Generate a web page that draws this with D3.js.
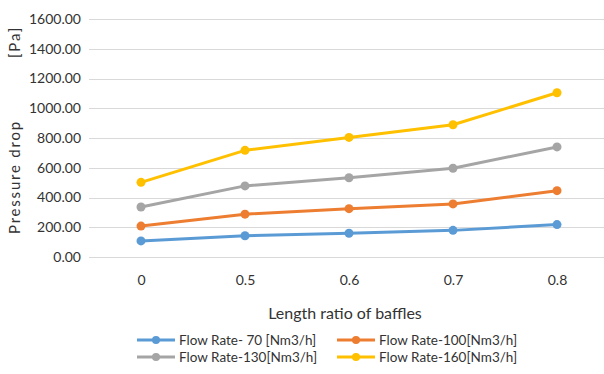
<!DOCTYPE html>
<html>
<head>
<meta charset="utf-8">
<script src="https://cdn.jsdelivr.net/npm/d3@7"></script>
<style>
  html, body { margin: 0; padding: 0; background: #fff; }
  svg { display: block; font-family: Lato, "Open Sans", sans-serif; }
</style>
</head>
<body>
<svg id="chart" width="604" height="374"></svg>
<script>
// Length ratio of baffles (categories on the x axis)
const categories = ["0", "0.5", "0.6", "0.7", "0.8"];

// Pressure drop [Pa] for each flow rate
const flow70  = [108, 143, 160, 179, 218];
const flow100 = [208, 288, 325, 357, 446];
const flow130 = [336, 478, 533, 597, 740];
const flow160 = [502, 717, 804, 889, 1104];

const seriesNames = [
  "Flow Rate- 70 [Nm3/h]",
  "Flow Rate-100[Nm3/h]",
  "Flow Rate-130[Nm3/h]",
  "Flow Rate-160[Nm3/h]"
];
const seriesColors = ["#5b9bd5", "#ed7d31", "#a5a5a5", "#ffc000"];

const yTicks = [0, 200, 400, 600, 800, 1000, 1200, 1400, 1600];

const series = [flow70, flow100, flow130, flow160].map((values, i) => ({
  name: seriesNames[i],
  color: seriesColors[i],
  values: values
}));

const textColor = "#333";
const svg = d3.select("#chart");

const x = d3.scalePoint()
  .domain(categories)
  .range([141, 557]);

const y = d3.scaleLinear()
  .domain([0, 1600])
  .range([257, 19]);

// Horizontal gridlines
svg.append("g")
  .selectAll("line")
  .data(yTicks)
  .join("line")
  .attr("x1", 89)
  .attr("x2", 604)
  .attr("y1", d => Math.round(y(d)) + 0.5)
  .attr("y2", d => Math.round(y(d)) + 0.5)
  .attr("stroke", "#d9d9d9")
  .attr("stroke-width", 1);

// Y axis labels
const yAxis = d3.axisLeft(y)
  .tickValues(yTicks)
  .tickFormat(d3.format(".2f"))
  .tickSize(0)
  .tickPadding(0);
const yg = svg.append("g")
  .attr("transform", "translate(81,0)")
  .call(yAxis);
yg.select(".domain").remove();
yg.selectAll("text")
  .attr("font-family", "Lato, sans-serif")
  .attr("font-size", 14)
  .attr("fill", textColor);

// X axis labels
const xAxis = d3.axisBottom(x).tickSize(0).tickPadding(0);
const xg = svg.append("g")
  .attr("transform", "translate(0,275)")
  .call(xAxis);
xg.select(".domain").remove();
xg.selectAll("text")
  .attr("font-family", "Lato, sans-serif")
  .attr("font-size", 14)
  .attr("fill", textColor);

// Axis titles
svg.append("text")
  .attr("x", 345)
  .attr("y", 319)
  .attr("text-anchor", "middle")
  .attr("font-size", 16)
  .attr("fill", textColor)
  .text("Length ratio of baffles");

svg.append("text")
  .attr("transform", "translate(20,177) rotate(-90)")
  .attr("text-anchor", "middle")
  .attr("font-size", 15)
  .attr("letter-spacing", 1.8)
  .attr("fill", textColor)
  .text("Pressure drop");

svg.append("text")
  .attr("transform", "translate(20,42) rotate(-90)")
  .attr("text-anchor", "middle")
  .attr("font-size", 15)
  .attr("letter-spacing", 1.8)
  .attr("fill", textColor)
  .text("[Pa]");

// Lines and markers
const line = d3.line()
  .x((d, i) => x(categories[i]))
  .y(d => y(d));

const sg = svg.append("g")
  .selectAll("g")
  .data(series)
  .join("g");

sg.append("path")
  .attr("d", d => line(d.values))
  .attr("fill", "none")
  .attr("stroke", d => d.color)
  .attr("stroke-width", 3)
  .attr("stroke-linejoin", "round");

sg.selectAll("circle")
  .data(d => d.values.map((v, i) => ({ v, i, color: d.color })))
  .join("circle")
  .attr("cx", d => x(categories[d.i]))
  .attr("cy", d => y(d.v))
  .attr("r", 4.5)
  .attr("fill", d => d.color);

// Legend
const legendPos = [
  [137, 340], [337, 340],
  [137, 357], [337, 357]
];
const lg = svg.append("g")
  .selectAll("g")
  .data(series)
  .join("g")
  .attr("transform", (d, i) => `translate(${legendPos[i][0]},${legendPos[i][1]})`);

lg.append("line")
  .attr("x1", 0).attr("x2", 38)
  .attr("y1", 0).attr("y2", 0)
  .attr("stroke", d => d.color)
  .attr("stroke-width", 3);
lg.append("circle")
  .attr("cx", 19).attr("cy", 0).attr("r", 4)
  .attr("fill", d => d.color);
lg.append("text")
  .attr("x", 42)
  .attr("y", 0)
  .attr("dy", "0.35em")
  .attr("font-size", 13.5)
  .attr("fill", textColor)
  .text(d => d.name);
</script>
</body>
</html>
